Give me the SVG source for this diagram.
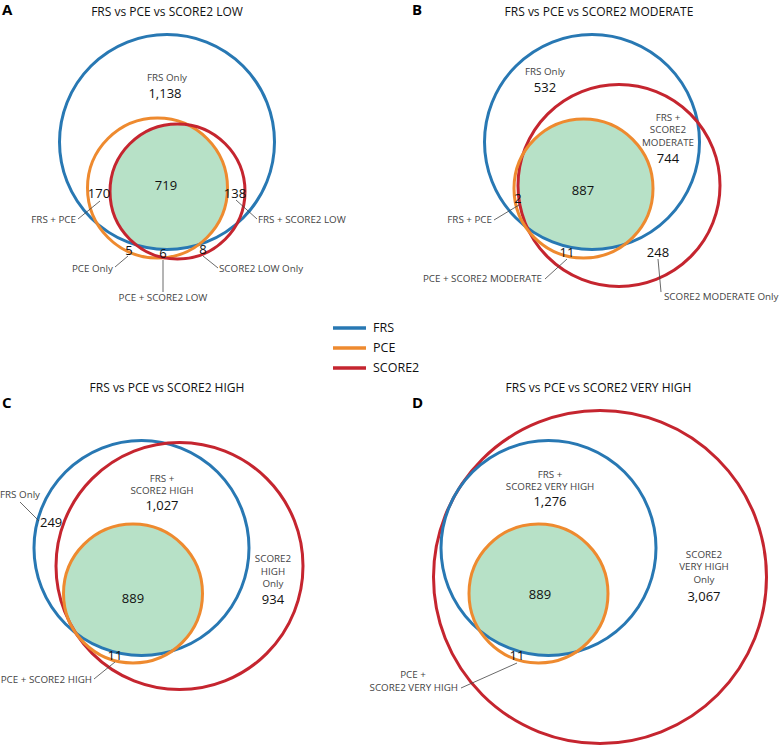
<svg xmlns="http://www.w3.org/2000/svg" width="779" height="746" viewBox="0 0 779 746">
<style>
.bg{fill:#fff}
.c{fill:none;stroke-width:3}
.frs{stroke:#2878b3}
.pce{stroke:#ee8a2f}
.s2{stroke:#c5252f}
.g{fill:#b7e1c7}
.t{font-family:"Open Sans","Noto Sans",sans-serif;font-size:12px;fill:#111;text-anchor:middle}
.p{font-family:"Open Sans","Liberation Sans",sans-serif;font-size:15px;font-weight:bold;fill:#000}
.l{font-family:"Open Sans","Noto Sans",sans-serif;font-size:9.8px;fill:#444}
.n{font-family:"Open Sans","Noto Sans",sans-serif;font-size:13px;fill:#111}
.m{text-anchor:middle}
.e{text-anchor:end}
.ld{stroke:#444;stroke-width:0.8;fill:none}
.lg{stroke-width:3.5}
.lt{font-family:"Open Sans","Noto Sans",sans-serif;font-size:12.5px;fill:#111}
</style>
<defs>
<clipPath id="aB"><circle cx="167" cy="142" r="107.5"/></clipPath>
<clipPath id="aO"><circle cx="157.5" cy="188" r="70"/></clipPath>
<clipPath id="bB"><circle cx="592" cy="142" r="107.5"/></clipPath>
<clipPath id="bO"><circle cx="583.5" cy="188.5" r="69.5"/></clipPath>
<clipPath id="cB"><circle cx="141.5" cy="548" r="107.5"/></clipPath>
<clipPath id="cO"><circle cx="133" cy="593.5" r="69.5"/></clipPath>
<clipPath id="dB"><circle cx="548.5" cy="548" r="107.5"/></clipPath>
</defs>
<rect class="bg" width="779" height="746"/>

<g id="panelA">
<text class="p" x="2" y="15">A</text>
<text class="t" x="167" y="16">FRS vs PCE vs SCORE2 LOW</text>
<g clip-path="url(#aB)"><g clip-path="url(#aO)"><circle class="g" cx="177.5" cy="191.5" r="67.5"/></g></g>
<circle id="A-FRS" class="c frs" cx="167" cy="142" r="107.5"/>
<circle id="A-PCE" class="c pce" cx="157.5" cy="188" r="70"/>
<circle id="A-SCORE2" class="c s2" cx="177.5" cy="191.5" r="67.5"/>
<text class="l m" x="167" y="81">FRS Only</text>
<text class="n m" x="165" y="98">1,138</text>
<text class="n m" x="166" y="190">719</text>
<text class="n m" x="99" y="198">170</text>
<text class="n m" x="235" y="198">138</text>
<text class="l e" x="76" y="223">FRS + PCE</text>
<text class="l" x="258" y="223">FRS + SCORE2 LOW</text>
<text class="n m" x="129" y="255">5</text>
<text class="n m" x="163" y="258">6</text>
<text class="n m" x="203" y="254">8</text>
<text class="l e" x="113" y="272">PCE Only</text>
<text class="l m" x="163" y="301">PCE + SCORE2 LOW</text>
<text class="l" x="219" y="272">SCORE2 LOW Only</text>
</g>

<g id="panelB">
<text class="p" x="412" y="15">B</text>
<text class="t" x="599" y="16">FRS vs PCE vs SCORE2 MODERATE</text>
<g clip-path="url(#bB)"><g clip-path="url(#bO)"><circle class="g" cx="619" cy="185.5" r="101"/></g></g>
<circle id="B-FRS" class="c frs" cx="592" cy="142" r="107.5"/>
<circle id="B-SCORE2" class="c s2" cx="619" cy="185.5" r="101"/>
<circle id="B-PCE" class="c pce" cx="583.5" cy="188.5" r="69.5"/>
<text class="l m" x="545" y="75">FRS Only</text>
<text class="n m" x="545" y="92">532</text>
<text class="l m" x="668" y="121">FRS +</text>
<text class="l m" x="668" y="133">SCORE2</text>
<text class="l m" x="668" y="146">MODERATE</text>
<text class="n m" x="668" y="163">744</text>
<text class="n m" x="583" y="195">887</text>
<text class="n m" x="518" y="203">2</text>
<text class="l e" x="492" y="223">FRS + PCE</text>
<text class="n m" x="567" y="257">11</text>
<text class="l e" x="542" y="282">PCE + SCORE2 MODERATE</text>
<text class="n m" x="658" y="257">248</text>
<text class="l" x="664" y="300">SCORE2 MODERATE Only</text>
</g>

<g id="legend">
<line class="lg frs" x1="333" y1="328" x2="366" y2="328"/>
<line class="lg pce" x1="333" y1="348" x2="366" y2="348"/>
<line class="lg s2" x1="333" y1="368" x2="366" y2="368"/>
<text class="lt" x="373" y="332">FRS</text>
<text class="lt" x="373" y="352">PCE</text>
<text class="lt" x="373" y="372">SCORE2</text>
</g>

<g id="panelC">
<text class="p" x="2" y="408">C</text>
<text class="t" x="167" y="392">FRS vs PCE vs SCORE2 HIGH</text>
<g clip-path="url(#cB)"><g clip-path="url(#cO)"><circle class="g" cx="179.5" cy="566" r="123.5"/></g></g>
<circle id="C-FRS" class="c frs" cx="141.5" cy="548" r="107.5"/>
<circle id="C-SCORE2" class="c s2" cx="179.5" cy="566" r="123.5"/>
<circle id="C-PCE" class="c pce" cx="133" cy="593.5" r="69.5"/>
<text class="l" x="0" y="498">FRS Only</text>
<text class="n" x="40" y="527">249</text>
<text class="l m" x="162" y="482">FRS +</text>
<text class="l m" x="162" y="494">SCORE2 HIGH</text>
<text class="n m" x="162" y="510">1,027</text>
<text class="l m" x="273" y="562">SCORE2</text>
<text class="l m" x="273" y="575">HIGH</text>
<text class="l m" x="273" y="587">Only</text>
<text class="n m" x="273" y="604">934</text>
<text class="n m" x="133" y="603">889</text>
<text class="n m" x="115" y="660">11</text>
<text class="l e" x="92" y="683">PCE + SCORE2 HIGH</text>
</g>

<g id="panelD">
<text class="p" x="412" y="408">D</text>
<text class="t" x="598.5" y="392">FRS vs PCE vs SCORE2 VERY HIGH</text>
<g clip-path="url(#dB)"><circle class="g" cx="538.5" cy="593.5" r="69.5"/></g>
<circle id="D-SCORE2" class="c s2" cx="600" cy="577" r="166.5"/>
<circle id="D-FRS" class="c frs" cx="548.5" cy="548" r="107.5"/>
<circle id="D-PCE" class="c pce" cx="538.5" cy="593.5" r="69.5"/>
<text class="l m" x="550" y="478">FRS +</text>
<text class="l m" x="550" y="490">SCORE2 VERY HIGH</text>
<text class="n m" x="550" y="506">1,276</text>
<text class="l m" x="704" y="558">SCORE2</text>
<text class="l m" x="704" y="570">VERY HIGH</text>
<text class="l m" x="704" y="583">Only</text>
<text class="n m" x="704" y="601">3,067</text>
<text class="n m" x="540" y="599">889</text>
<text class="n m" x="517" y="660">11</text>
<text class="l m" x="413" y="678">PCE +</text>
<text class="l e" x="458" y="691">SCORE2 VERY HIGH</text>
</g>

<g id="connectors">
<line class="ld" x1="78" y1="219" x2="100" y2="201"/>
<line class="ld" x1="236" y1="200" x2="257" y2="219"/>
<line class="ld" x1="115" y1="267" x2="128" y2="256"/>
<line class="ld" x1="163" y1="260" x2="163" y2="292"/>
<line class="ld" x1="203" y1="256" x2="218" y2="268"/>
<line class="ld" x1="494" y1="220" x2="519" y2="205"/>
<line class="ld" x1="545" y1="279" x2="567" y2="259"/>
<line class="ld" x1="658" y1="259" x2="661" y2="292"/>
<line class="ld" x1="20" y1="502" x2="39" y2="521"/>
<line class="ld" x1="94" y1="679" x2="115" y2="662"/>
<line class="ld" x1="461" y1="688" x2="517" y2="663"/>
</g>
</svg>
